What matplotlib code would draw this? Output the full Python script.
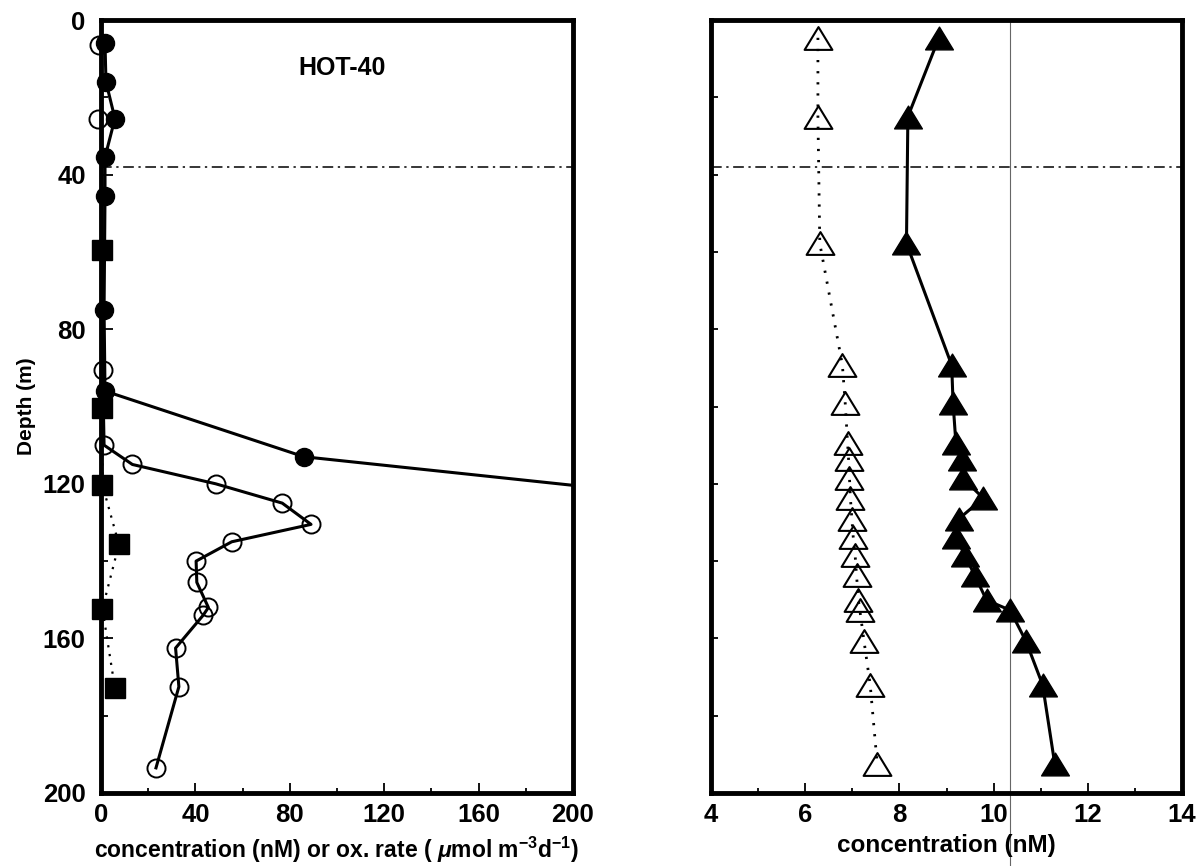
#!/usr/bin/env python3
# coding=utf-8
import numpy as np
import matplotlib
matplotlib.use('Agg')
import matplotlib.pyplot as plt
from matplotlib.path import Path
from matplotlib.ticker import MultipleLocator

plt.rcParams['font.family'] = ['Liberation Sans', 'DejaVu Sans']
plt.rcParams['font.weight'] = 'bold'
plt.rcParams['mathtext.fontset'] = 'custom'
plt.rcParams['mathtext.rm'] = 'Liberation Sans:bold'
plt.rcParams['mathtext.it'] = 'Liberation Sans:italic:bold'
plt.rcParams['mathtext.bf'] = 'Liberation Sans:bold'
plt.rcParams['mathtext.default'] = 'rm'

# left panel: HOT-40 profiles
fill_circ_depth = [6, 16, 25.5, 35.5, 45.5, 75, 96, 113, 125]
fill_circ_val = [1.7, 2.1, 5.9, 1.7, 1.7, 1.3, 1.7, 86, 271]

open_circ_depth = [6.5, 25.5, 90.5, 110, 115, 120, 125, 130.5, 135, 140,
                   145.5, 152, 154, 162.5, 172.5, 193.5]
open_circ_val = [-0.8, -1.1, 0.7, 1.3, 13.3, 48.6, 76.8, 89, 55.4, 40.3,
                 40.6, 45.5, 43.3, 31.6, 33, 23.3]

square_depth = [59.5, 100.5, 120.3, 135.7, 152.3, 172.9]
square_val = [0.6, 0.6, 0.6, 7.6, 0.6, 5.9]

# right panel: concentrations
tri_depth = [4.6, 25, 57.8, 89.3, 99.2, 109.5, 113.5, 118.5, 123.7, 129,
             133.8, 138.5, 143.7, 150.1, 152.7, 160.8, 172, 192.6]
open_tri_val = [6.27, 6.27, 6.31, 6.79, 6.85, 6.9, 6.92, 6.94, 6.96, 6.99,
                7.02, 7.06, 7.09, 7.13, 7.16, 7.25, 7.38, 7.53]
fill_tri_val = [8.84, 8.18, 8.15, 9.11, 9.14, 9.2, 9.32, 9.34, 9.78, 9.27,
                9.2, 9.39, 9.6, 9.85, 10.35, 10.69, 11.04, 11.3]

mixed_layer = 38
scan_line_x = 10.35

# wide, flat triangle like the original symbols
tri = Path([(0, 0.82), (-1, -0.82), (1, -0.82), (0, 0.82)],
           [Path.MOVETO, Path.LINETO, Path.LINETO, Path.CLOSEPOLY])

fig = plt.figure(figsize=(12, 8.66), dpi=100)
ax1 = fig.add_axes([101 / 1200, 73 / 866, 472 / 1200, 773 / 866])
ax2 = fig.add_axes([711 / 1200, 73 / 866, 471 / 1200, 773 / 866])


def style_axis(ax):
    for s in ax.spines.values():
        s.set_linewidth(3.5)
    ax.tick_params(which='both', direction='in', width=1.3,
                   labelsize=18.5, pad=7)
    ax.tick_params(which='major', length=7)
    ax.tick_params(which='minor', length=3.5)
    ax.set_ylim(200, 0)


# ---- left ----
style_axis(ax1)
ax1.set_xlim(0, 200)
ax1.xaxis.set_major_locator(MultipleLocator(40))
ax1.xaxis.set_minor_locator(MultipleLocator(20))
ax1.yaxis.set_major_locator(MultipleLocator(40))
ax1.yaxis.set_minor_locator(MultipleLocator(20))
ax1.tick_params(axis='y', which='major', length=8.5, pad=11)
ax1.tick_params(axis='y', which='minor', length=5)

ax1.axhline(mixed_layer, color='black', lw=1.1, ls=(0, (7, 3, 1.5, 3)))

ax1.plot(square_val, square_depth, color='black', lw=1.6, ls=(0, (1, 3)),
         zorder=2)
ax1.plot(square_val, square_depth, 's', color='black', ms=15, zorder=3,
         clip_on=False)

ax1.plot(open_circ_val, open_circ_depth, color='black', lw=2.2, zorder=4)
ax1.plot(open_circ_val, open_circ_depth, 'o', mfc='none', mec='black',
         mew=1.4, ms=13, zorder=4, clip_on=False)

ax1.plot(fill_circ_val, fill_circ_depth, color='black', lw=2.2, zorder=5)
ax1.plot(fill_circ_val[:-1], fill_circ_depth[:-1], 'o', color='black',
         ms=13, zorder=5, clip_on=False)

ax1.text(102, 12.4, 'HOT-40', ha='center', va='center', fontsize=18,
         fontweight='bold')
ax1.set_ylabel('Depth (m)', fontsize=15, fontweight='bold', labelpad=5)
ax1.set_xlabel(r'concentration (nM) or ox. rate ( $\mathit{\mu}$mol m$^{-3}$d$^{-1}$)',
               fontsize=16.5, fontweight='bold', labelpad=6)

# ---- right ----
style_axis(ax2)
ax2.set_xlim(4, 14)
ax2.xaxis.set_major_locator(MultipleLocator(2))
ax2.xaxis.set_minor_locator(MultipleLocator(1))
ax2.yaxis.set_major_locator(MultipleLocator(20))
ax2.tick_params(axis='y', labelleft=False, length=5)

ax2.axhline(mixed_layer, color='black', lw=1.1, ls=(0, (7, 3, 1.5, 3)))
ax2.axvline(scan_line_x, ymin=-0.12, ymax=1, color='#666666', lw=0.8,
            clip_on=False, zorder=1)

ax2.plot(open_tri_val, tri_depth, color='black', lw=2, ls=(0, (0.8, 3.2)),
         zorder=3)
ax2.plot(open_tri_val, tri_depth, marker=tri, ls='none', mfc='none',
         mec='black', mew=1.5, ms=20, zorder=3, clip_on=False)

ax2.plot(fill_tri_val, tri_depth, color='black', lw=2.2, zorder=4)
ax2.plot(fill_tri_val, tri_depth, marker=tri, ls='none', color='black',
         ms=20, zorder=4, clip_on=False)

ax2.set_xlabel('concentration (nM)', fontsize=17.5, fontweight='bold',
               labelpad=5)

fig.savefig('out.png', dpi=100)
